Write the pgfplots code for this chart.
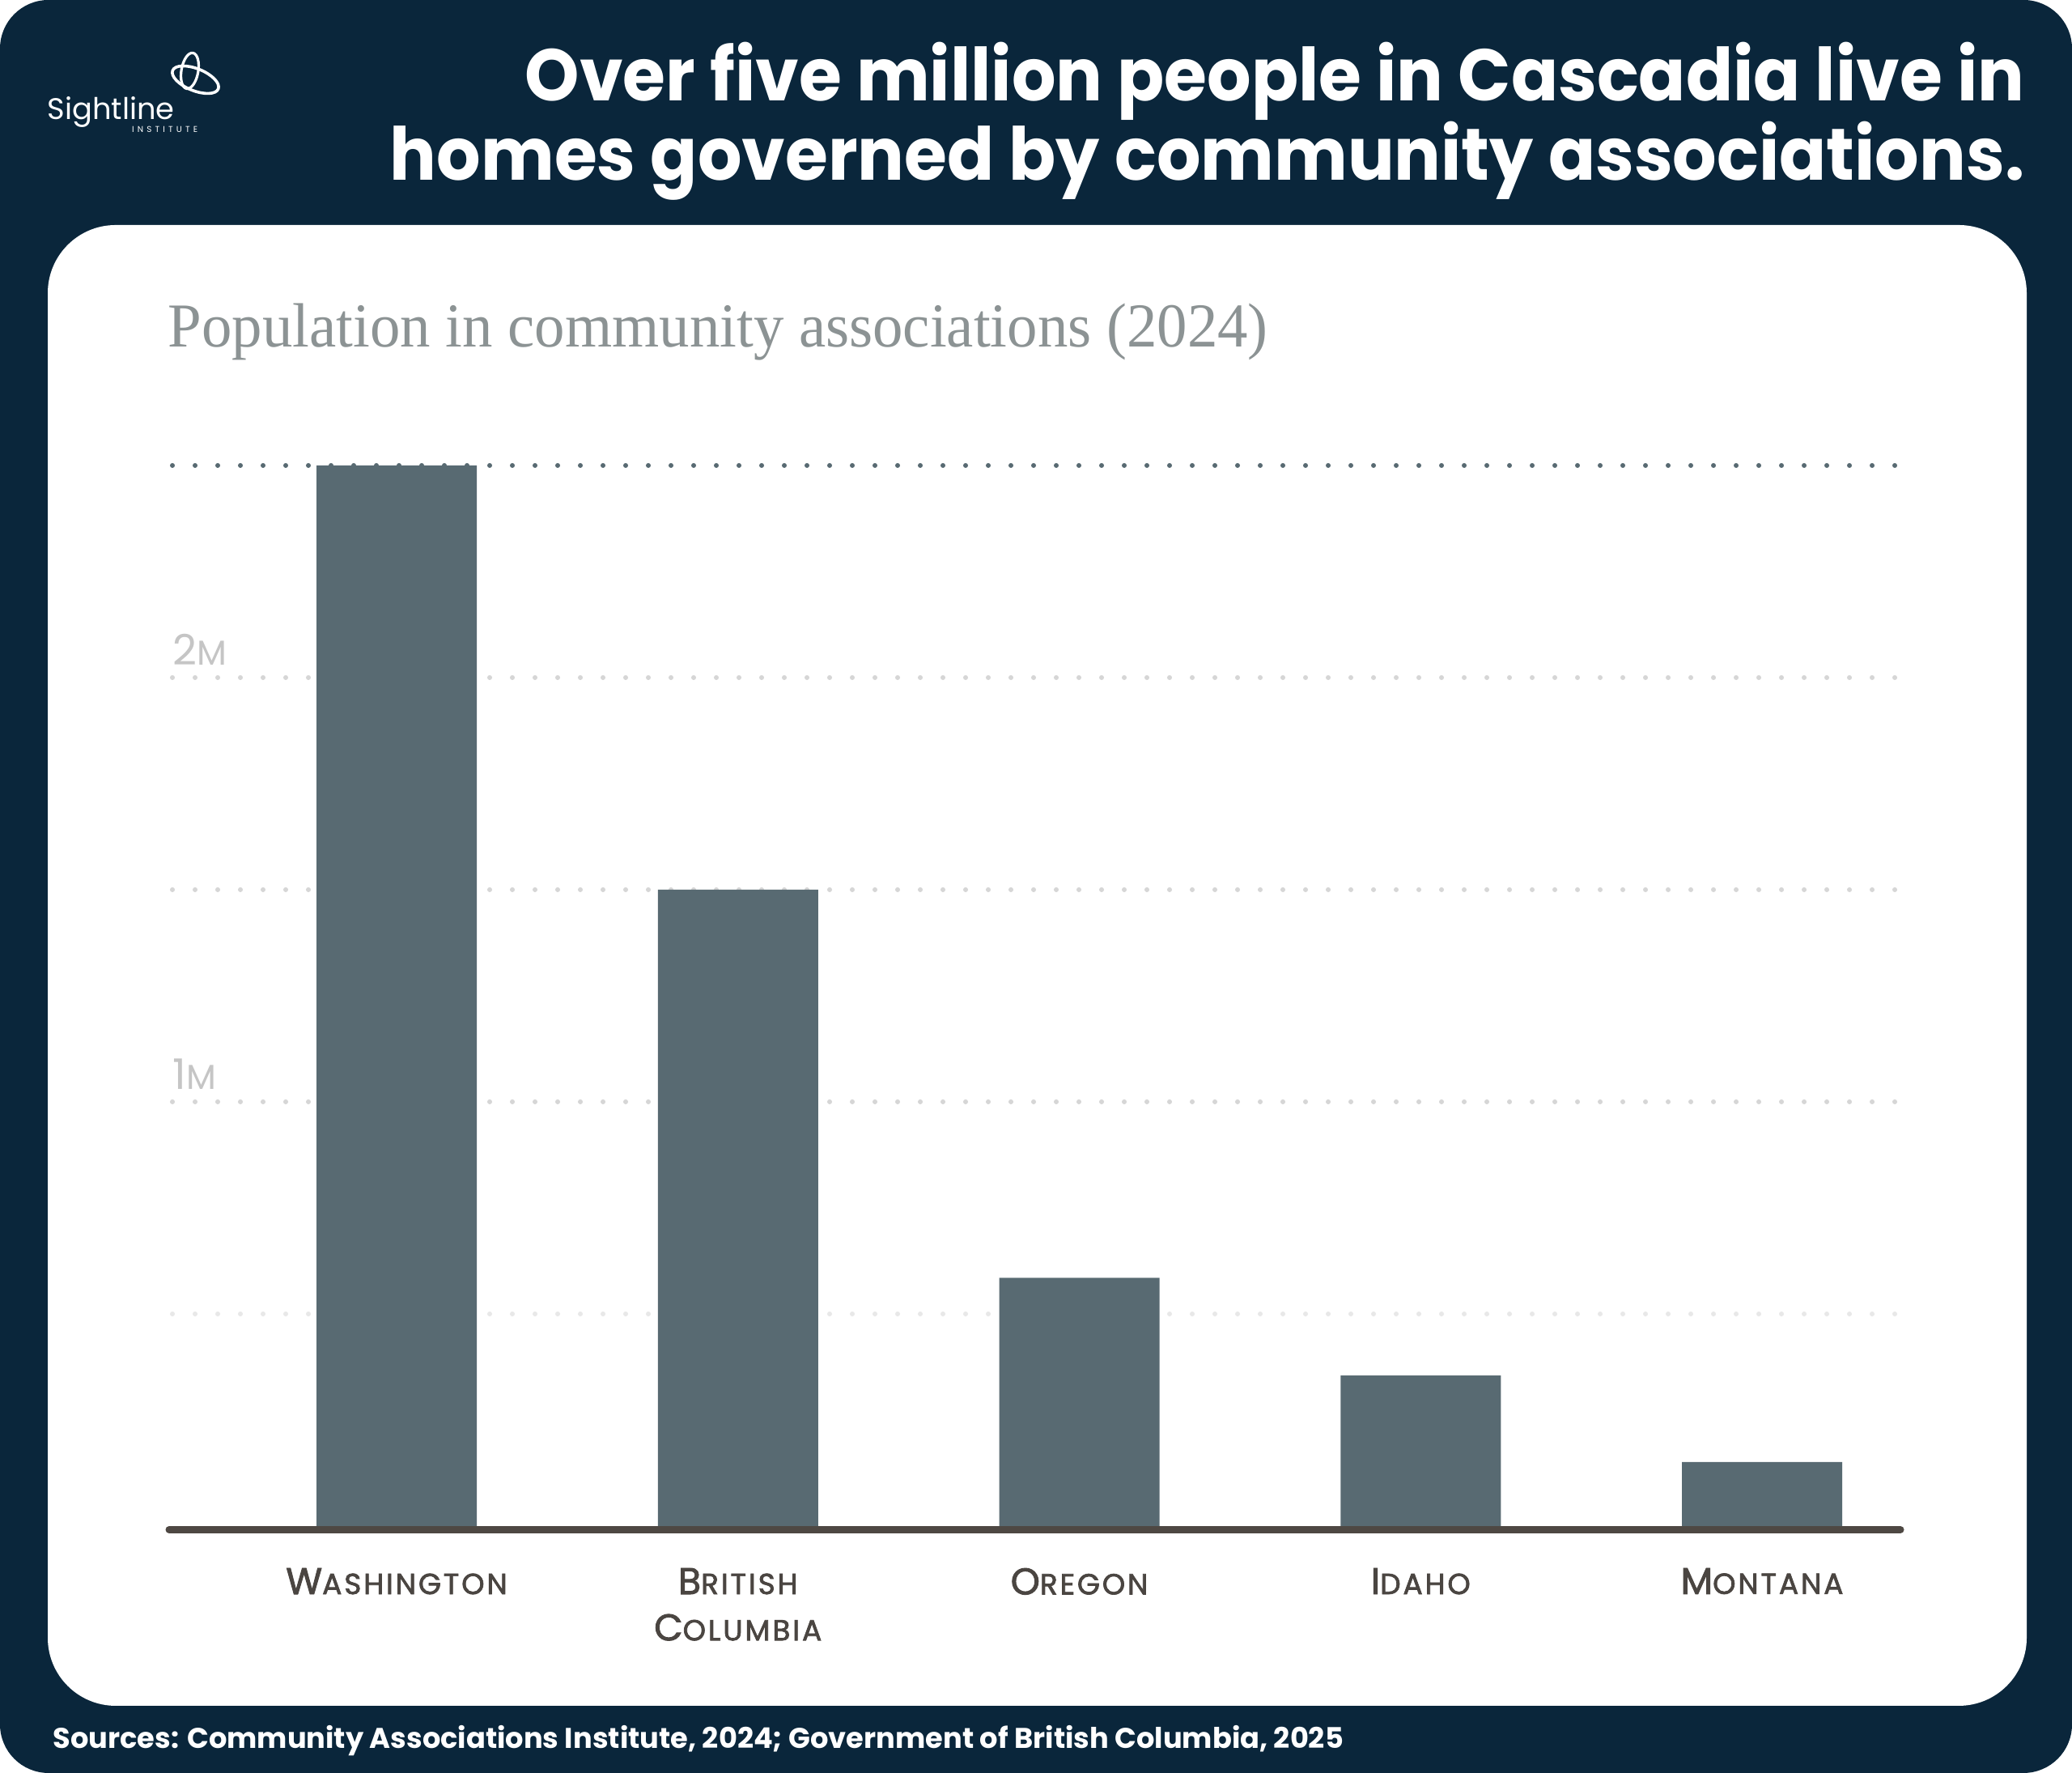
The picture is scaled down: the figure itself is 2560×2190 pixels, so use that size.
\documentclass[border=0pt]{standalone}
\usepackage{fontspec}
\setmainfont{Poppins}
\newfontfamily\serifsub{Liberation Serif}
\newfontfamily\labfont[FakeBold=2,LetterSpace=8]{Poppins}
\usepackage{pgfplots}
\pgfplotsset{compat=1.18}
\definecolor{navy}{HTML}{0A263B}
\definecolor{barc}{HTML}{586A72}
\definecolor{gridl}{HTML}{D6D6D6}
\definecolor{gridll}{HTML}{E8E8E8}
\definecolor{axisc}{HTML}{4E4843}
\definecolor{labc}{HTML}{4A4541}
\definecolor{tickc}{HTML}{C5C5C5}
\definecolor{subc}{HTML}{8C9394}
\newcommand\SC[2]{#1{\fontsize{9pt}{14.3pt}\selectfont #2}}
\newcommand\TK[2]{{\fontsize{13pt}{13pt}\selectfont #1}{\fontsize{10.7pt}{13pt}\selectfont #2}}
\begin{document}
\begin{tikzpicture}[x=0.25pt,y=0.25pt]
\path[use as bounding box] (0,0) rectangle (2560,2190);
\fill[white] (0,0) rectangle (2560,2190);
\fill[navy, rounded corners=15pt] (0,0) rectangle (2560,2190);
\fill[white, rounded corners=21pt] (59,2190-278) rectangle (2504,2190-2107);
\coordinate (axo) at (209,305);
% logo
\draw[white, line width=0.8pt, rotate around={-10:(234.5,2190-87.5)}] (234.5,2190-87.5) ellipse [x radius=2.6pt, y radius=5.6pt];
\draw[white, line width=0.9pt, rotate around={-22:(241.5,2190-98.5)}] (241.5,2190-98.5) ellipse [x radius=7.6pt, y radius=3.4pt];
\node[anchor=base west, inner sep=0pt, text=white, font=\fontsize{9.2pt}{10pt}\selectfont] at (58,2190-147.3) {Sightline};
\node[anchor=base east, inner sep=0pt, text=white, font=\fontsize{2.6pt}{3pt}\selectfont\addfontfeature{LetterSpace=40}] at (245,2190-164) {INSTITUTE};
% title
\node[anchor=base east, inner sep=0pt, text=white, font=\fontsize{22.6pt}{24pt}\selectfont\bfseries] at (2502,2190-125) {\scalebox{0.948}[1]{Over five million people in Cascadia live in}};
\node[anchor=base east, inner sep=0pt, text=white, font=\fontsize{22.6pt}{24pt}\selectfont\bfseries] at (2502,2190-222.7) {\scalebox{0.948}[1]{homes governed by community associations.}};
% subtitle
\node[anchor=base west, inner sep=0pt, text=subc, font=\serifsub\fontsize{19.3pt}{20pt}\selectfont] at (207,2190-428.3) {\scalebox{0.969}[1]{Population in community associations (2024)}};
% sources
\node[anchor=base west, inner sep=0pt, text=white, font=\fontsize{8.8pt}{9pt}\selectfont\bfseries] at (65,2190-2160) {Sources: Community Associations Institute, 2024; Government of British Columbia, 2025};
\begin{axis}[
  at={(axo)}, anchor=south west,
  scale only axis, width=534.75pt, height=327.5pt,
  xmin=-0.6663, xmax=4.4054, ymin=0, ymax=2.5,
  clip=false,
  axis line style={draw=none},
  major tick length=0pt,
  ytick={1,2}, yticklabels={\TK{1}{M},\TK{2}{M}},
  yticklabel style={anchor=base west, inner sep=0pt, xshift=1pt, yshift=3.8pt, text=tickc},
  xtick={0,1,2,3,4},
  xticklabels={{\SC{W}{ASHINGTON}},{\SC{B}{RITISH}\\\SC{C}{OLUMBIA}},{\SC{O}{REGON}},{\SC{I}{DAHO}},{\SC{M}{ONTANA}}},
  xticklabel style={align=center, anchor=north, inner sep=0pt, yshift=-12.8pt, text=labc, font=\labfont\fontsize{11.5pt}{14.3pt}\selectfont},
]
\draw[gridll, line width=1.5pt, line cap=round, dash pattern=on 0pt off 7pt] (axis cs:-0.6568,0.5) -- (axis cs:4.4007,0.5);
\draw[gridl, line width=1.5pt, line cap=round, dash pattern=on 0pt off 7pt] (axis cs:-0.6568,1) -- (axis cs:4.4007,1);
\draw[gridl, line width=1.5pt, line cap=round, dash pattern=on 0pt off 7pt] (axis cs:-0.6568,1.5) -- (axis cs:4.4007,1.5);
\draw[gridl, line width=1.5pt, line cap=round, dash pattern=on 0pt off 7pt] (axis cs:-0.6568,2) -- (axis cs:4.4007,2);
\addplot[ybar, bar width=49.5pt, fill=barc, draw=none] coordinates {(0,2.5) (1,1.5) (2,0.585) (3,0.355) (4,0.151)};
\draw[barc, line width=1.5pt, line cap=round, dash pattern=on 0pt off 7pt] (axis cs:-0.6568,2.5) -- (axis cs:4.4007,2.5);
\draw[axisc, line width=2.25pt, line cap=round] ([yshift=-1.125pt]axis cs:-0.6663,0) -- ([yshift=-1.125pt]axis cs:4.4054,0);
\end{axis}
\end{tikzpicture}
\end{document}
